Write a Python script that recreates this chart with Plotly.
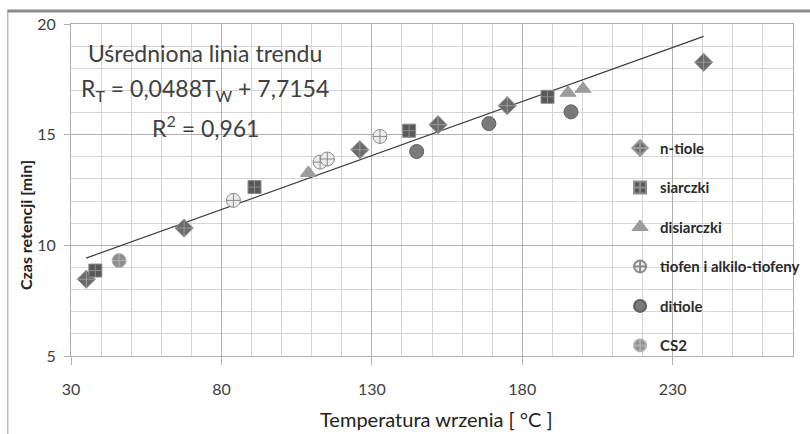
import plotly.graph_objects as go

# ---- data ----
ntiole_x = [35.1, 67.6, 126.0, 152.0, 175.0, 240.3]
ntiole_y = [8.47, 10.78, 14.32, 15.45, 16.31, 18.27]

siarczki_x = [38.1, 91.0, 142.4, 188.4]
siarczki_y = [8.86, 12.63, 15.18, 16.71]

disiarczki_x = [108.9, 195.2, 200.2]
disiarczki_y = [13.27, 16.89, 17.07]

tiofen_x = [84.0, 112.8, 115.2, 132.7]
tiofen_y = [12.03, 13.76, 13.90, 14.92]

ditiole_x = [144.9, 168.9, 196.2]
ditiole_y = [14.24, 15.50, 16.03]

cs2_x = [46.0]
cs2_y = [9.31]

trend_slope = 0.0488
trend_intercept = 7.7154
trend_x = [35.0, 240.3]
trend_y = [trend_slope * t + trend_intercept for t in trend_x]

x_ticks = [30, 80, 130, 180, 230]
y_ticks = [5, 10, 15, 20]

FONT = "Lato"
TXT = "#404040"

fig = go.Figure()

fig.add_trace(go.Scatter(x=trend_x, y=trend_y, mode="lines",
                         line=dict(color="#3c3c3c", width=1.2),
                         showlegend=False, hoverinfo="skip"))

series = [
    ("n-tiole", ntiole_x, ntiole_y, "diamond-cross", 14, "#6a6a6a", "#9a9a9a"),
    ("siarczki", siarczki_x, siarczki_y, "square-cross", 13, "#585858", "#8c8c8c"),
    ("disiarczki", disiarczki_x, disiarczki_y, "triangle-up", 14, "#9c9c9c", "#9c9c9c"),
    ("tiofen i alkilo-tiofeny", tiofen_x, tiofen_y, "circle-cross", 14, "#ececec", "#8a8a8a"),
    ("ditiole", ditiole_x, ditiole_y, "circle", 14, "#7a7a7a", "#5e5e5e"),
    ("CS2", cs2_x, cs2_y, "circle-cross", 14, "#8e8e8e", "#b0b0b0"),
]
for i, (name, xs, ys, sym, size, fill, edge) in enumerate(series):
    fig.add_trace(go.Scatter(
        x=xs, y=ys, mode="markers", name=name, legendgroup=f"g{i}",
        marker=dict(symbol=sym, size=size, color=fill,
                    line=dict(color=edge, width=1)),
    ))

plot_top, plot_bot, plot_left, plot_right = 24.5, 356.0, 70.7, 793.0


def px_x(p):
    return (p - plot_left) / (plot_right - plot_left)


def px_y(p):
    return (plot_bot - p) / (plot_bot - plot_top)


# trend-line annotation
ann_lines = [
    ("Uśredniona linia trendu", 53),
    ("R<sub>T</sub> = 0,0488T<sub>W</sub> + 7,7154", 90),
    ("R<sup>2</sup> = 0,961", 127),
]
for text, py in ann_lines:
    fig.add_annotation(
        text=text, xref="paper", yref="paper",
        x=px_x(205), y=px_y(py),
        xanchor="center", yanchor="middle", showarrow=False,
        font=dict(family=FONT, size=23, color=TXT),
    )

# axis titles as annotations (positioned as in reference)
fig.add_annotation(
    text="Temperatura wrzenia [ °C ]", xref="paper", yref="paper",
    x=px_x(436), y=px_y(419),
    xanchor="center", yanchor="middle", showarrow=False,
    font=dict(family=FONT, size=20, color="#222222"),
)
fig.add_annotation(
    text="<b>Czas retencji [min]</b>", xref="paper", yref="paper",
    x=px_x(25), y=px_y(225), textangle=-90,
    xanchor="center", yanchor="middle", showarrow=False,
    font=dict(family=FONT, size=16, color="#222222"),
)

# outer frame (top and left edges)
fig.add_shape(type="line", xref="paper", yref="paper",
              x0=px_x(7), x1=px_x(812), y0=px_y(11.5), y1=px_y(11.5),
              line=dict(color="#8a8a8a", width=3))
fig.add_shape(type="line", xref="paper", yref="paper",
              x0=px_x(7.5), x1=px_x(7.5), y0=px_y(11.5), y1=px_y(436),
              line=dict(color="#9a9a9a", width=1))

fig.update_xaxes(
    range=[30, 270], tickmode="array", tickvals=x_ticks,
    ticktext=[str(v) for v in x_ticks],
    showgrid=True, gridcolor="#b0b0b0", gridwidth=1,
    minor=dict(dtick=10, tick0=30, showgrid=True, gridcolor="#d6d6d6", gridwidth=1),
    ticks="outside", ticklen=8, tickcolor="#b0b0b0",
    ticklabelstandoff=11,
    showline=True, linecolor="#b0b0b0", linewidth=1, mirror=True,
    zeroline=False, automargin=False,
    tickfont=dict(family=FONT, size=16, color=TXT),
)
fig.update_yaxes(
    range=[5, 20], tickmode="array", tickvals=y_ticks,
    ticktext=[str(v) for v in y_ticks],
    showgrid=True, gridcolor="#b0b0b0", gridwidth=1,
    minor=dict(dtick=1, tick0=5, showgrid=True, gridcolor="#d6d6d6", gridwidth=1),
    ticks="outside", ticklen=6, tickcolor="#b0b0b0",
    ticklabelstandoff=5,
    showline=True, linecolor="#b0b0b0", linewidth=1, mirror=True,
    zeroline=False, automargin=False,
    tickfont=dict(family=FONT, size=16, color=TXT),
)

fig.update_layout(
    width=810, height=434,
    margin=dict(l=71, r=17, t=24, b=78, autoexpand=False),
    paper_bgcolor="white", plot_bgcolor="white",
    legend=dict(
        x=px_x(620), y=px_y(132), xanchor="left", yanchor="top",
        bgcolor="rgba(0,0,0,0)", tracegroupgap=17,
        itemwidth=30, itemsizing="constant",
        font=dict(family=FONT, size=15, color="#2a2a2a", weight="bold"),
    ),
    showlegend=True,
)

fig.write_html("out.html", config={"displayModeBar": False},
               post_script="document.body.style.margin='0px';")
